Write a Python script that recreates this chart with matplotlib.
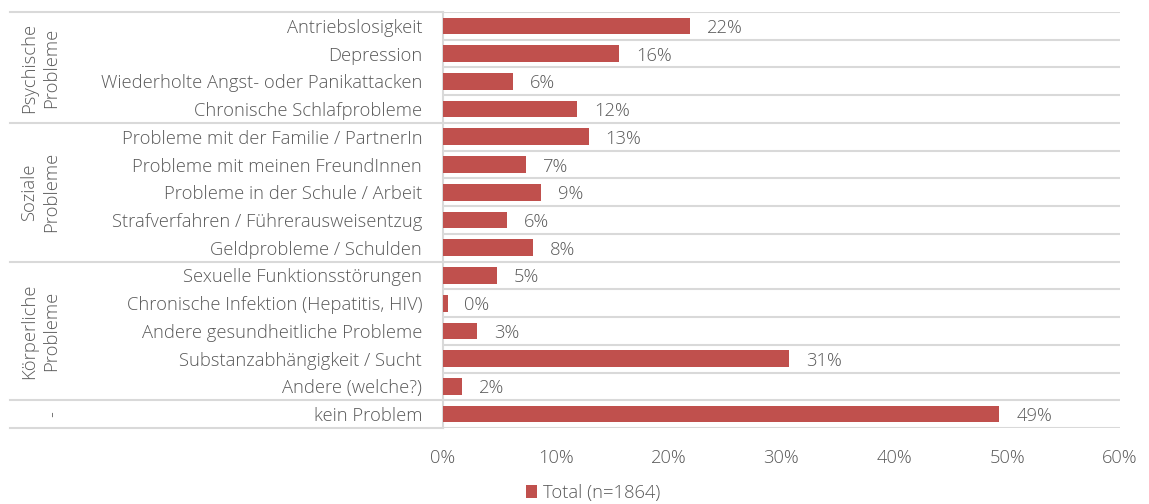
import matplotlib.pyplot as plt
from matplotlib.lines import Line2D

plt.rcParams['font.family'] = ['Open Sans', 'DejaVu Sans']

# categories top to bottom, with their group
labels = ["Antriebslosigkeit", "Depression", "Wiederholte Angst- oder Panikattacken",
          "Chronische Schlafprobleme",
          "Probleme mit der Familie / PartnerIn", "Probleme mit meinen FreundInnen",
          "Probleme in der Schule / Arbeit", "Strafverfahren / Führerausweisentzug",
          "Geldprobleme / Schulden",
          "Sexuelle Funktionsstörungen", "Chronische Infektion (Hepatitis, HIV)",
          "Andere gesundheitliche Probleme", "Substanzabhängigkeit / Sucht",
          "Andere (welche?)",
          "kein Problem"]
values = [21.9, 15.6, 6.2, 11.9,
          12.9, 7.4, 8.7, 5.7, 8.0,
          4.8, 0.4, 3.0, 30.7, 1.7,
          49.3]
groups = ["Psychische\nProbleme", "Soziale\nProbleme", "Körperliche\nProbleme", "-"]
group_sizes = [4, 5, 5, 1]
xticks = [0, 10, 20, 30, 40, 50, 60]
series_name = "Total (n=1864)"

bar_color = "#C0504D"
text_color = "#595959"
line_color = "#D9D9D9"
fs = 13.2
fw = 'light'

W, H = 1149, 504
fig = plt.figure(figsize=(W / 100, H / 100), dpi=100)
ax_left, ax_right, ax_top, ax_bottom = 443, 1120, 12, 428
ax = fig.add_axes([ax_left / W, 1 - ax_bottom / H, (ax_right - ax_left) / W, (ax_bottom - ax_top) / H])

y = list(range(len(labels)))
bars = ax.barh(y, values, height=0.6, color=bar_color, label=series_name, zorder=3)
for yi, v in zip(y, values):
    ax.text(v + 1.5, yi, f"{round(v):.0f}%", va='center_baseline', ha='left',
            fontsize=fs, color=text_color, fontweight=fw)

ax.set_xlim(0, 60)
ax.set_ylim(len(labels) - 0.5, -0.5)
ax.set_xticks(xticks)
ax.set_xticklabels([f"{t}%" for t in xticks], fontweight=fw)
ax.set_yticks(y)
ax.set_yticklabels(labels, fontweight=fw)
ax.tick_params(axis='both', length=0, labelsize=fs, labelcolor=text_color)
ax.tick_params(axis='x', pad=15)
ax.tick_params(axis='y', pad=15)

for s in ['top', 'right', 'bottom']:
    ax.spines[s].set_visible(False)
ax.spines['left'].set_color(line_color)
ax.spines['left'].set_linewidth(1.5)

# row lines inside the plot area
for b in range(len(labels) + 1):
    ax.axhline(b - 0.5, color=line_color, linewidth=1.5, zorder=1)

# group separators run out to the left edge, group names rotated
x_edge = (10 - ax_left) / (ax_right - ax_left)
start = 0
bounds = [-0.5]
for name, n in zip(groups, group_sizes):
    mid = start + (n - 1) / 2
    xpos = 52 if name == "-" else 40
    ax.text((xpos - ax_left) / (ax_right - ax_left), mid, name, rotation=90,
            ha='center', va='center', fontsize=fs, color=text_color, fontweight=fw,
            multialignment='center', linespacing=1.3,
            transform=ax.get_yaxis_transform())
    start += n
    bounds.append(start - 0.5)
for b in bounds:
    ax.add_line(Line2D([x_edge, 0], [b, b], color=line_color, linewidth=1.5,
                       transform=ax.get_yaxis_transform(), clip_on=False))

fig.legend(handles=[bars], labels=[series_name], loc='center', bbox_to_anchor=(593 / W, 1 - 493 / H),
           frameon=False, handlelength=0.6, handleheight=0.7, handletextpad=0.3,
           prop={'size': fs, 'weight': fw}, labelcolor=text_color)

fig.savefig("out.png", dpi=100)
